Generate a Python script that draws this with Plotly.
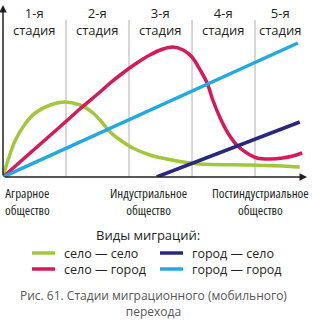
import plotly.graph_objects as go

# ---- data (x in stage units, y in relative units) ----
green_x = [0, 0.08, 0.19, 0.35, 0.51, 0.75, 0.98, 1.22, 1.43, 1.54, 1.70, 1.86, 2.06, 2.33, 2.60, 2.86, 3.13, 3.92, 4.44, 4.71]
green_y = [0, 17, 36, 53, 64, 72, 75, 72, 64, 57, 45, 37, 29, 22, 18, 15, 13, 12, 11, 10]

red_x = [0, 0.43, 0.90, 1.22, 1.54, 1.70, 1.86, 2.10, 2.33, 2.54, 2.70, 2.86, 3.00, 3.13, 3.24, 3.33,
         3.44, 3.57, 3.71, 3.87, 4.03, 4.24, 4.44, 4.60, 4.75]
red_y = [0, 24, 50, 68, 85, 94, 102, 113, 122, 128, 130, 127, 120, 107, 94, 77,
         60, 44, 32, 24, 19, 18, 19, 21, 24]

navy_x = [2.44, 4.71]
navy_y = [0, 55]

cyan_x = [0, 4.68]
cyan_y = [0, 134]

stage_top = ["1-я", "2-я", "3-я", "4-я", "5-я"]
stage_x = [0.5, 1.5, 2.5, 3.5, 4.41]
grid_x = [1, 2, 3, 4]

society_labels = [["Аграрное", "общество"], ["Индустриальное", "общество"], ["Постиндустриальное", "общество"]]
society_px = [27, 148, 260]

legend_names = ["село — село", "город — село", "село — город", "город — город"]
colors = {"green": "#a2c73b", "red": "#d51a59", "navy": "#29287e", "cyan": "#21a9e0"}

fig = go.Figure()
series = [("green", green_x, green_y), ("red", red_x, red_y), ("cyan", cyan_x, cyan_y), ("navy", navy_x, navy_y)]
for c, xs, ys in series:
    fig.add_trace(go.Scatter(x=xs, y=ys, mode="lines",
                             line=dict(color=colors[c], width=3.5, shape="spline", smoothing=0.7),
                             showlegend=False, hoverinfo="skip"))

XMAX = 4.825
YMAX = 172
shapes = []
for gx in grid_x:
    shapes.append(dict(type="line", xref="x", yref="y", x0=gx, x1=gx, y0=0, y1=157,
                       line=dict(color="#b0b0b0", width=1), layer="below"))

ann = []
# axes arrows
ann.append(dict(x=XMAX, y=0, ax=0, ay=0, xref="x", yref="y", axref="x", ayref="y",
                showarrow=True, arrowhead=2, arrowsize=1, arrowwidth=1.5, arrowcolor="#231f20", text=""))
ann.append(dict(x=0, y=YMAX, ax=0, ay=0, xref="x", yref="y", axref="x", ayref="y",
                showarrow=True, arrowhead=2, arrowsize=1, arrowwidth=1.5, arrowcolor="#231f20", text=""))

tfont = dict(family="Open Sans", size=13, color="#231f20")
for sx, st in zip(stage_x, stage_top):
    ann.append(dict(x=sx, y=156, xref="x", yref="y", text=st + "<br>стадия", showarrow=False, font=tfont,
                    xanchor="center", yanchor="middle", borderpad=0))

def px_to_paper(px, py):
    return (px - 3) / 304.0, (177 - py) / 172.0

nfont = dict(family="Open Sans", size=13, color="#231f20")
for spx, lines in zip(society_px, society_labels):
    x, y = px_to_paper(spx, 201.5)
    txt = "<br>".join('<span style="font-stretch:condensed">' + ln + "</span>" for ln in lines)
    ann.append(dict(x=x, y=y, xref="paper", yref="paper", text=txt, showarrow=False,
                    font=nfont, xanchor="center", yanchor="middle", borderpad=0))

# legend title
lx, ly = px_to_paper(148, 235)
ann.append(dict(x=lx, y=ly, xref="paper", yref="paper", text="Виды миграций:", showarrow=False,
                font=dict(family="Open Sans", size=13, color="#231f20"), xanchor="center", yanchor="middle",
                borderpad=0))

leg_cols = ["green", "navy", "red", "cyan"]
leg_pos = [(32, 253), (160, 253), (32, 269), (160, 269)]
for c, (px, py) in zip(leg_cols, leg_pos):
    x0, y0 = px_to_paper(px, py)
    x1, _ = px_to_paper(px + 23, py)
    shapes.append(dict(type="line", xref="paper", yref="paper", x0=x0, x1=x1, y0=y0, y1=y0,
                       line=dict(color=colors[c], width=3.5)))
for col in range(2):
    px, _ = leg_pos[col]
    tx, ty = px_to_paper(px + 31, 261)
    ann.append(dict(x=tx, y=ty, xref="paper", yref="paper",
                    text=legend_names[col] + "<br>" + legend_names[col + 2], showarrow=False,
                    font=dict(family="Open Sans", size=12.5, color="#231f20"), xanchor="left",
                    yanchor="middle", align="left", borderpad=0))

cfont = dict(family="Open Sans", size=12, color="#555555")
cx, cy = px_to_paper(153, 303)
ann.append(dict(x=cx, y=cy, xref="paper", yref="paper",
                text="Рис. 61. Стадии миграционного (мобильного)<br>перехода",
                showarrow=False, font=cfont, xanchor="center", yanchor="middle", borderpad=0))

fig.update_layout(
    width=312, height=320,
    margin=dict(l=3, r=5, t=5, b=143),
    paper_bgcolor="white", plot_bgcolor="white",
    xaxis=dict(range=[0, XMAX], visible=False, fixedrange=True),
    yaxis=dict(range=[0, YMAX], visible=False, fixedrange=True),
    shapes=shapes, annotations=ann,
)
fig.write_html("out.html")
